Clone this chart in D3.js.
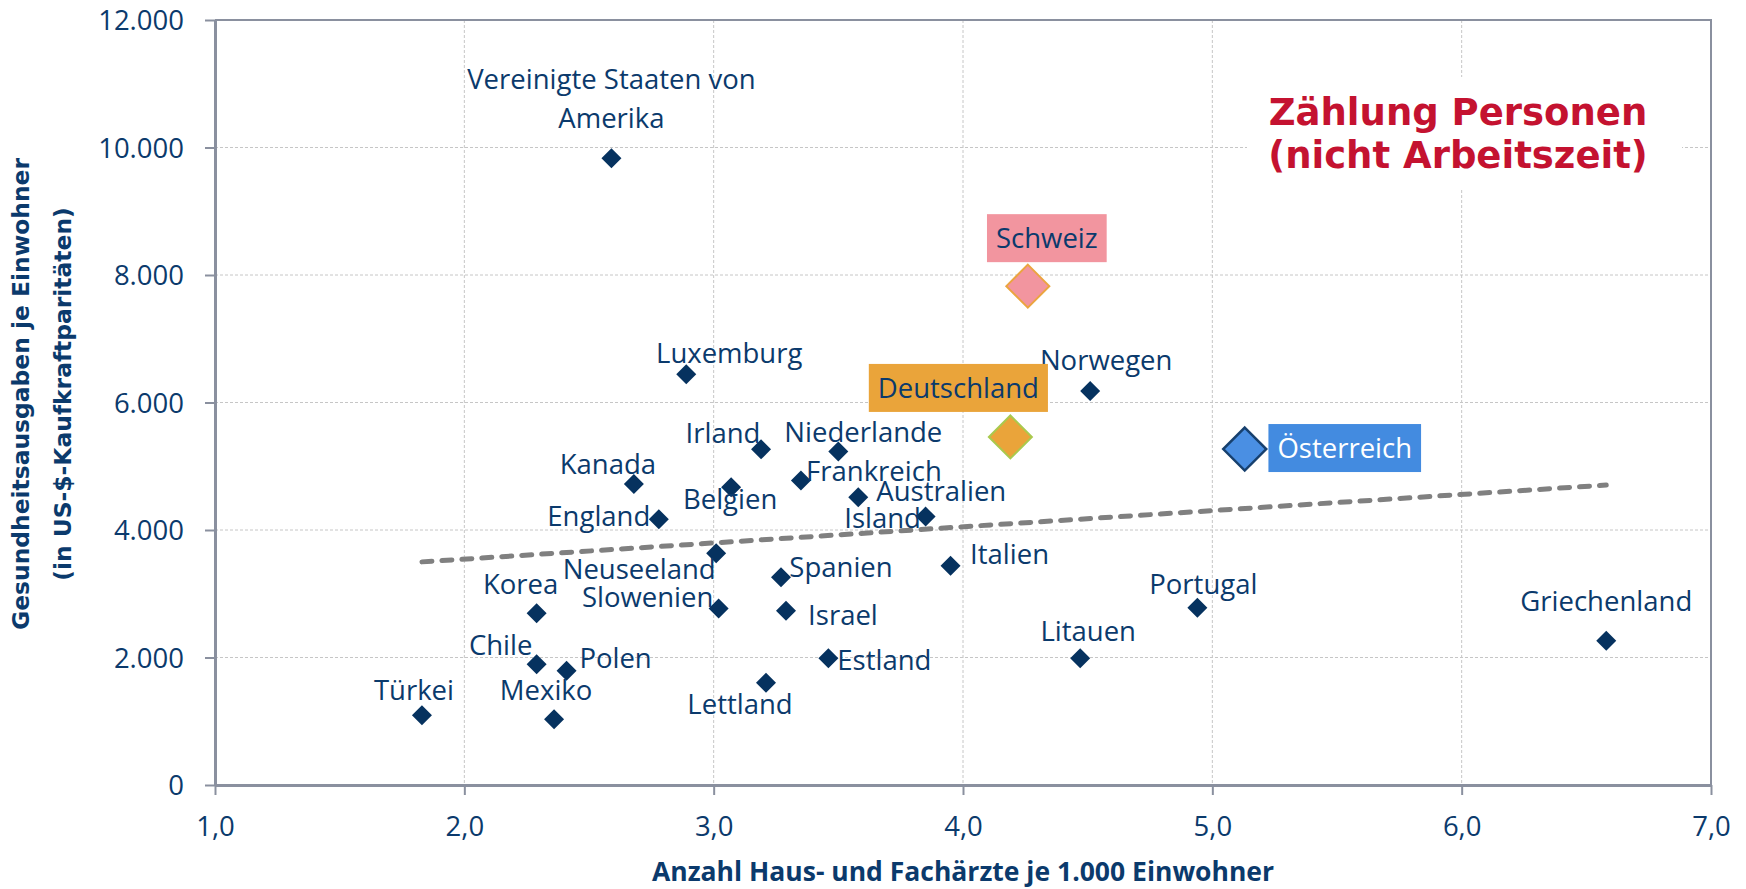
<!DOCTYPE html>
<html><head><meta charset="utf-8">
<script src="https://cdn.jsdelivr.net/npm/d3@7"></script>
<style>html,body{margin:0;padding:0;background:#fff;} svg{display:block;}</style>
</head><body><svg id="chart" width="1746" height="889"></svg>
<script>
// ---------- data ----------
const countries = ["Vereinigte Staaten von\nAmerika","Luxemburg","Schweiz","Norwegen","Deutschland","Österreich","Irland","Niederlande","Kanada","Frankreich","Belgien","Australien","England","Island","Neuseeland","Italien","Spanien","Korea","Slowenien","Israel","Portugal","Griechenland","Chile","Polen","Litauen","Estland","Lettland","Türkei","Mexiko"];
const doctors  = [2.59,2.89,4.26,4.51,4.19,5.13,3.19,3.50,2.68,3.35,3.07,3.58,2.78,3.85,3.01,3.95,3.27,2.29,3.02,3.29,4.94,6.58,2.29,2.41,4.47,3.46,3.21,1.83,2.36];
const spending = [9830,6445,7825,6180,5460,5270,5265,5230,4720,4775,4670,4513,4170,4210,3635,3440,3258,2693,2770,2734,2782,2264,1893,1793,1987,1987,1605,1093,1030];
const trendX = [1.83, 6.58];
const trendY = [3500, 4705];
const xTicks = [1,2,3,4,5,6,7];
const yTicks = [0,2000,4000,6000,8000,10000,12000];
const xAxisTitle = "Anzahl Haus- und Fachärzte je 1.000 Einwohner";
const yAxisTitle = ["Gesundheitsausgaben je Einwohner","(in US-$-Kaufkraftparitäten)"];
const noteLines = ["Zählung Personen","(nicht Arbeitszeit)"];
const highlighted = ["Schweiz","Deutschland","Österreich"];

// ---------- layout / style ----------
const W = 1746, H = 889;
const M = {left:215, right:1711, top:20, bottom:785};
const navy = "#0B3A6C", markerNavy = "#06325F", axisGray = "#8A909F";
const labelOffsets = {
  "Vereinigte Staaten von\nAmerika":[0,-69], "Luxemburg":[43,-11], "Schweiz":[19,-38], "Norwegen":[16,-21],
  "Deutschland":[-52,-39], "Österreich":[100,9], "Irland":[-38,-6], "Niederlande":[25,-10], "Kanada":[-26,-10],
  "Frankreich":[73,0], "Belgien":[-1,22], "Australien":[83,4], "England":[-60,7], "Island":[-43,11],
  "Neuseeland":[-77,26], "Italien":[59,-2], "Spanien":[60,0], "Korea":[-16,-19], "Slowenien":[-71,-1],
  "Israel":[57,14], "Portugal":[6,-14], "Griechenland":[0,-30], "Chile":[-36,-9], "Polen":[49,-3],
  "Litauen":[8,-17], "Estland":[56,12], "Lettland":[-26,31], "Türkei":[-8,-15], "Mexiko":[-8,-19]
};
const hlStyle = {
  "Schweiz":     {fill:"#F2959F", stroke:"#EBA540", sw:2,   box:"#F2959F", text:navy},
  "Deutschland": {fill:"#EAA43A", stroke:"#A9C94E", sw:2,   box:"#EAA43A", text:navy},
  "Österreich":  {fill:"#4A8FE3", stroke:"#17406E", sw:2.5, box:"#438BE0", text:"#FFFFFF"}
};
const labelFont = "'Open Sans', sans-serif";

const de = d3.formatLocale({decimal:",", thousands:".", grouping:[3], currency:["","€"]});
const x = d3.scaleLinear().domain([1,7]).range([M.left, M.right]);
const y = d3.scaleLinear().domain([0,12000]).range([M.bottom, M.top]);

const svg = d3.select("#chart");
svg.append("rect").attr("width",W).attr("height",H).attr("fill","#fff");

// gridlines
const grid = svg.append("g");
grid.selectAll("line.v").data(xTicks.slice(1,-1)).join("line")
  .attr("x1",d=>x(d)).attr("x2",d=>x(d)).attr("y1",M.top).attr("y2",M.bottom)
  .attr("stroke","#C6C6C6").attr("stroke-width",1).attr("stroke-dasharray","3,2");
grid.selectAll("line.h").data(yTicks.slice(1,-1)).join("line")
  .attr("x1",M.left).attr("x2",M.right).attr("y1",d=>y(d)).attr("y2",d=>y(d))
  .attr("stroke","#C6C6C6").attr("stroke-width",1).attr("stroke-dasharray","3,2");

// plot border (top/right)
svg.append("path").attr("d",`M${M.left},${M.top}H${M.right}V${M.bottom}`)
  .attr("fill","none").attr("stroke",axisGray).attr("stroke-width",2);

// annotation background + text
svg.append("rect").attr("x",1247).attr("y",77).attr("width",435).attr("height",111).attr("fill","#fff");
svg.append("g").selectAll("text").data(noteLines).join("text")
  .attr("x",1458).attr("y",(d,i)=>125+i*43).attr("text-anchor","middle")
  .attr("font-family","'DejaVu Sans', sans-serif").attr("font-weight","bold").attr("font-size",37)
  .attr("fill","#C41230").text(d=>d);

// trendline
svg.append("line").attr("x1",x(trendX[0])).attr("y1",y(trendY[0])).attr("x2",x(trendX[1])).attr("y2",y(trendY[1]))
  .attr("stroke","#808080").attr("stroke-width",5).attr("stroke-dasharray","10,10").attr("stroke-linecap","round");

// axes
const yAxis = svg.append("g").attr("transform",`translate(${M.left},0)`)
  .call(d3.axisLeft(y).tickValues(yTicks).tickSize(10).tickSizeOuter(0).tickFormat(de.format(",")));
const xAxis = svg.append("g").attr("transform",`translate(0,${M.bottom})`)
  .call(d3.axisBottom(x).tickValues(xTicks).tickSize(10).tickSizeOuter(0).tickFormat(de.format(".1f")));
[yAxis,xAxis].forEach(g=>{
  g.select(".domain").attr("stroke",axisGray).attr("stroke-width",3);
  g.selectAll(".tick line").attr("stroke",axisGray).attr("stroke-width",2);
  g.selectAll(".tick text").attr("fill",navy).attr("font-family",labelFont).attr("font-size",27.5);
});
yAxis.selectAll(".tick text").attr("x",-31).attr("dy","0.36em");
xAxis.selectAll(".tick text").attr("y",51).attr("dy",0);

// axis titles
svg.append("g").attr("transform",`translate(0,394) rotate(-90)`).selectAll("text").data(yAxisTitle).join("text")
  .attr("x",0).attr("y",(d,i)=>29+i*41.5).attr("text-anchor","middle")
  .attr("font-family","'DejaVu Sans', sans-serif").attr("font-weight","bold").attr("font-size",23.4)
  .attr("fill",navy).text(d=>d);
svg.append("text").attr("x",(M.left+M.right)/2).attr("y",881).attr("text-anchor","middle")
  .attr("font-family",labelFont).attr("font-weight","bold").attr("font-size",26.5)
  .attr("fill",navy).text(xAxisTitle);

// points
const pts = countries.map((c,i)=>({name:c, xv:doctors[i], yv:spending[i], hl:highlighted.includes(c)}));
const diamond = r => `M0,${-r}L${r},0L0,${r}L${-r},0Z`;
svg.append("g").selectAll("path").data(pts).join("path")
  .attr("transform",d=>`translate(${x(d.xv)},${y(d.yv)})`)
  .attr("d",d=>diamond(d.hl?21.5:10))
  .attr("fill",d=>d.hl?hlStyle[d.name].fill:markerNavy)
  .attr("stroke",d=>d.hl?hlStyle[d.name].stroke:"none")
  .attr("stroke-width",d=>d.hl?hlStyle[d.name].sw:0);

// labels
const lg = svg.append("g");
pts.forEach(d=>{
  const off = labelOffsets[d.name];
  const cx = x(d.xv)+off[0], by = y(d.yv)+off[1];
  const g = lg.append("g");
  const t = g.append("text").attr("text-anchor","middle").attr("font-family",labelFont).attr("font-size",27.5)
    .attr("fill", d.hl?hlStyle[d.name].text:navy);
  d.name.split("\n").forEach((line,i)=>{
    t.append("tspan").attr("x",cx).attr("y",by+i*38.4).text(line);
  });
  if(d.hl){
    const w = t.node().getComputedTextLength();
    g.insert("rect","text").attr("x",cx-w/2-9).attr("y",by-34).attr("width",w+18).attr("height",48)
      .attr("fill",hlStyle[d.name].box);
  }
});
</script></body></html>
